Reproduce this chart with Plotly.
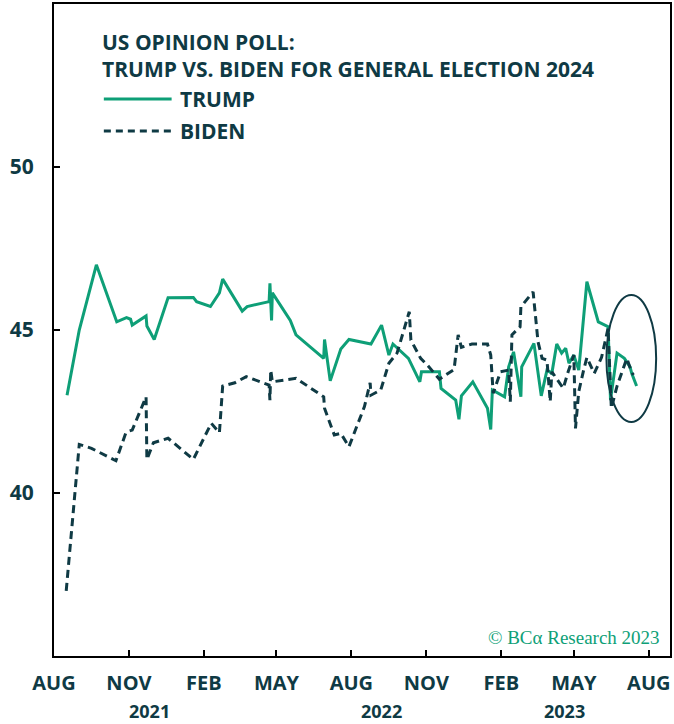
import plotly.graph_objects as go

# Poll series (percent support)
trump_dates = [
    "2021-08-17", "2021-09-01", "2021-09-22", "2021-10-17", "2021-10-29", "2021-11-03",
    "2021-11-05", "2021-11-22", "2021-11-23", "2021-12-02", "2021-12-19", "2022-01-19",
    "2022-01-23", "2022-02-09", "2022-02-20", "2022-02-24", "2022-03-20", "2022-03-26",
    "2022-04-22", "2022-04-23", "2022-04-25", "2022-04-26", "2022-05-18", "2022-05-25",
    "2022-06-28", "2022-06-29", "2022-07-06", "2022-07-19", "2022-07-29", "2022-08-11",
    "2022-08-25", "2022-09-07", "2022-09-16", "2022-09-21", "2022-10-10", "2022-10-24",
    "2022-10-26", "2022-11-17", "2022-11-19", "2022-12-07", "2022-12-11", "2022-12-14",
    "2022-12-28", "2023-01-15", "2023-01-19", "2023-01-21", "2023-02-05", "2023-02-10",
    "2023-02-16", "2023-02-25", "2023-02-26", "2023-03-13", "2023-03-22", "2023-03-29",
    "2023-04-04", "2023-04-10", "2023-04-16", "2023-04-21", "2023-04-25", "2023-05-01",
    "2023-05-07", "2023-05-17", "2023-05-31", "2023-06-12", "2023-06-15", "2023-06-23",
    "2023-07-02", "2023-07-09", "2023-07-11", "2023-07-17",
]
trump_values = [
    43.0, 45.0, 47.0, 45.25, 45.38, 45.33,
    45.15, 45.43, 45.12, 44.71, 45.99, 46.0,
    45.87, 45.72, 46.14, 46.56, 45.58, 45.72,
    45.87, 46.43, 45.29, 46.14, 45.29, 44.85,
    44.13, 44.71, 43.44, 44.42, 44.71, 44.64,
    44.57, 45.15, 44.23, 44.57, 44.13, 43.41,
    43.72, 43.72, 43.21, 42.85, 42.26, 42.98,
    43.41, 42.6, 41.95, 43.16, 42.95, 43.87,
    44.33, 42.95, 43.87, 44.59, 42.98, 43.77,
    43.67, 44.57, 44.29, 44.44, 43.98, 44.23,
    43.77, 46.48, 45.25, 45.1, 42.85, 44.29,
    44.13, 43.87, 43.67, 43.28,
]

biden_dates = [
    "2021-08-16", "2021-09-01", "2021-09-16", "2021-10-16", "2021-10-28", "2021-11-01",
    "2021-11-05", "2021-11-22", "2021-11-23", "2021-12-01", "2021-12-19", "2022-01-19",
    "2022-02-10", "2022-02-20", "2022-02-24", "2022-03-11", "2022-03-25", "2022-04-22",
    "2022-04-23", "2022-04-24", "2022-04-26", "2022-05-25", "2022-06-28", "2022-06-29",
    "2022-07-11", "2022-07-19", "2022-07-29", "2022-08-17", "2022-08-24", "2022-08-25",
    "2022-09-06", "2022-09-16", "2022-09-26", "2022-10-11", "2022-10-13", "2022-10-25",
    "2022-11-02", "2022-11-17", "2022-12-05", "2022-12-10", "2022-12-14", "2022-12-27",
    "2023-01-15", "2023-01-19", "2023-01-22", "2023-01-31", "2023-02-10", "2023-02-12",
    "2023-02-14", "2023-02-24", "2023-02-25", "2023-03-12", "2023-03-18", "2023-03-23",
    "2023-03-29", "2023-04-02", "2023-04-04", "2023-04-12", "2023-04-18", "2023-04-24",
    "2023-05-01", "2023-05-03", "2023-05-07", "2023-05-13", "2023-05-17", "2023-05-26",
    "2023-06-04", "2023-06-12", "2023-06-16", "2023-06-23", "2023-07-05", "2023-07-10",
    "2023-07-13",
]
biden_values = [
    37.0, 41.49, 41.37, 40.99, 41.83, 41.9,
    41.93, 42.95, 41.03, 41.54, 41.68, 41.03,
    42.14, 41.85, 43.28, 43.38, 43.57, 43.31,
    42.85, 43.77, 43.41, 43.52, 42.95, 42.6,
    41.78, 41.83, 41.42, 42.65, 43.38, 43.0,
    43.16, 43.98, 44.29, 45.56, 44.69, 44.13,
    43.93, 43.49, 43.79, 44.85, 44.47, 44.57,
    44.57, 44.23, 43.06, 43.72, 43.77, 42.8,
    44.85, 45.1, 45.71, 46.17, 44.64, 44.13,
    44.08, 42.8, 43.72, 43.41, 43.21, 43.72,
    44.23, 41.98, 43.11, 43.77, 44.16, 43.67,
    44.16, 45.05, 42.6, 43.28, 44.13, 43.77,
    43.62,
]

tick_dates = ["2021-08-01", "2021-11-01", "2022-02-01", "2022-05-01", "2022-08-01",
              "2022-11-01", "2023-02-01", "2023-05-01", "2023-08-01"]
tick_labels = ["AUG", "NOV", "FEB", "MAY", "AUG", "NOV", "FEB", "MAY", "AUG"]
year_labels = ["2021", "2022", "2023"]
y_ticks = [40, 45, 50]

GREEN = "#0e9f77"
DARK = "#0f3a44"
FONT = "Open Sans"

fig = go.Figure()
fig.add_trace(go.Scatter(x=trump_dates, y=trump_values, mode="lines", name="TRUMP",
                         line=dict(color=GREEN, width=3), showlegend=False))
fig.add_trace(go.Scatter(x=biden_dates, y=biden_values, mode="lines", name="BIDEN",
                         line=dict(color=DARK, width=3, dash="8px,5px"), showlegend=False))

# Ellipse highlighting the latest readings
fig.add_shape(type="circle", xref="x", yref="y",
              x0="2023-06-10", x1="2023-08-10", y0=42.18, y1=46.07,
              line=dict(color=DARK, width=2))


def px_x(px):
    return (px - 54) / 618


def px_y(py):
    return (656 - py) / 652


# Hand-built legend
fig.add_shape(type="line", xref="paper", yref="paper",
              x0=px_x(104), x1=px_x(172), y0=px_y(99), y1=px_y(99),
              line=dict(color=GREEN, width=3))
fig.add_shape(type="line", xref="paper", yref="paper",
              x0=px_x(104), x1=px_x(172), y0=px_y(131), y1=px_y(131),
              line=dict(color=DARK, width=3, dash="7px,5px"))

annotations = [
    dict(text="US OPINION POLL:<br>TRUMP VS. BIDEN FOR GENERAL ELECTION 2024",
         x=px_x(100), y=px_y(26), xanchor="left", yanchor="top", align="left",
         font=dict(family=FONT, size=21, color=DARK, weight=700)),
    dict(text="TRUMP", x=px_x(178), y=px_y(99), xanchor="left", yanchor="middle",
         font=dict(family=FONT, size=21, color=DARK, weight=700)),
    dict(text="BIDEN", x=px_x(178), y=px_y(131), xanchor="left", yanchor="middle",
         font=dict(family=FONT, size=21, color=DARK, weight=700)),
    dict(text="© BCα Research 2023", x=px_x(664), y=px_y(637), xanchor="right",
         yanchor="middle", font=dict(family="Liberation Serif", size=19, color=GREEN)),
]
for label, cx in zip(year_labels, [150, 383, 566]):
    annotations.append(dict(text=label, x=px_x(cx), y=px_y(724), xanchor="center",
                            yanchor="bottom", borderpad=0,
                            font=dict(family=FONT, size=18, color=DARK, weight=700)))
for a in annotations:
    a.update(xref="paper", yref="paper", showarrow=False)

fig.update_layout(
    width=674, height=724,
    margin=dict(l=54, r=2, t=4, b=68),
    paper_bgcolor="white", plot_bgcolor="white",
    annotations=annotations,
    xaxis=dict(range=["2021-08-01", "2023-08-27"], tickvals=tick_dates, ticktext=tick_labels,
               ticks="inside", ticklen=6, tickwidth=2, tickcolor="black",
               showline=True, linecolor="black", linewidth=2, mirror=True,
               showgrid=False, zeroline=False, ticklabelstandoff=8,
               tickfont=dict(family=FONT, size=20, color=DARK, weight=700)),
    yaxis=dict(range=[35, 55], tickvals=y_ticks,
               ticks="inside", ticklen=6, tickwidth=2, tickcolor="black",
               showline=True, linecolor="black", linewidth=2, mirror=True,
               showgrid=False, zeroline=False, ticklabelstandoff=14,
               tickfont=dict(family=FONT, size=21, color=DARK, weight=700)),
)

fig.write_html("out.html")
